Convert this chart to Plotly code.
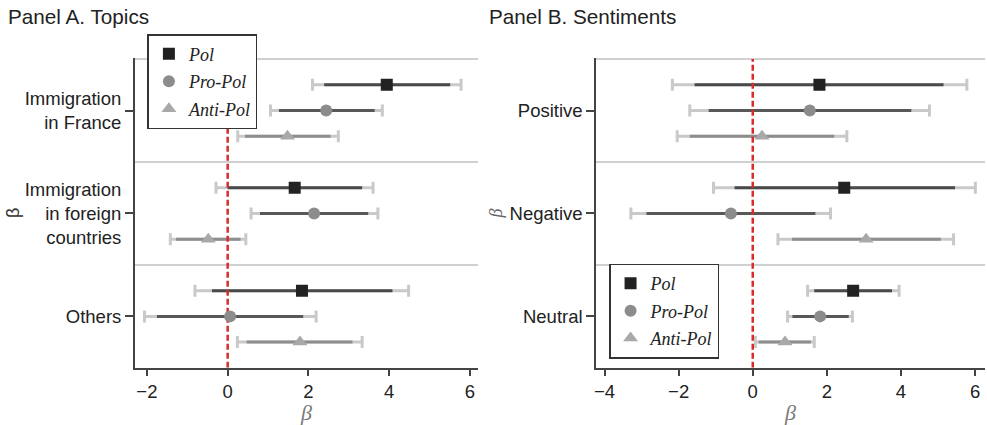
import plotly.graph_objects as go

# ---------------- data ----------------
series = ["Pol", "Pro-Pol", "Anti-Pol"]

topics = ["Immigration<br>in France", "Immigration<br>in foreign<br>countries", "Others"]
topics_est = {
    "Pol":      [3.94, 1.66, 1.84],
    "Pro-Pol":  [2.44, 2.14, 0.06],
    "Anti-Pol": [1.48, -0.48, 1.79],
}
topics_ci95_lo = {
    "Pol":      [2.10, -0.29, -0.81],
    "Pro-Pol":  [1.06, 0.58, -2.06],
    "Anti-Pol": [0.25, -1.42, 0.24],
}
topics_ci95_hi = {
    "Pol":      [5.78, 3.60, 4.48],
    "Pro-Pol":  [3.83, 3.72, 2.19],
    "Anti-Pol": [2.74, 0.45, 3.33],
}
topics_ci90_lo = {
    "Pol":      [2.39, 0.00, -0.39],
    "Pro-Pol":  [1.27, 0.80, -1.75],
    "Anti-Pol": [0.43, -1.28, 0.47],
}
topics_ci90_hi = {
    "Pol":      [5.51, 3.33, 4.08],
    "Pro-Pol":  [3.64, 3.48, 1.87],
    "Anti-Pol": [2.55, 0.32, 3.09],
}

sentiments = ["Positive", "Negative", "Neutral"]
sent_est = {
    "Pol":      [1.80, 2.47, 2.71],
    "Pro-Pol":  [1.54, -0.59, 1.82],
    "Anti-Pol": [0.25, 3.06, 0.87],
}
sent_ci95_lo = {
    "Pol":      [-2.17, -1.06, 1.48],
    "Pro-Pol":  [-1.70, -3.29, 0.94],
    "Anti-Pol": [-2.04, 0.68, 0.07],
}
sent_ci95_hi = {
    "Pol":      [5.78, 6.01, 3.95],
    "Pro-Pol":  [4.77, 2.10, 2.69],
    "Anti-Pol": [2.54, 5.42, 1.66],
}
sent_ci90_lo = {
    "Pol":      [-1.57, -0.49, 1.66],
    "Pro-Pol":  [-1.19, -2.87, 1.07],
    "Anti-Pol": [-1.70, 1.06, 0.16],
}
sent_ci90_hi = {
    "Pol":      [5.15, 5.46, 3.76],
    "Pro-Pol":  [4.28, 1.69, 2.59],
    "Anti-Pol": [2.20, 5.08, 1.57],
}

x_ticks_a = [-2, 0, 2, 4, 6]
x_ticks_b = [-4, -2, 0, 2, 4, 6]
ref_value = 0

# ---------------- styles ----------------
marker_symbol = {"Pol": "square", "Pro-Pol": "circle", "Anti-Pol": "triangle-up"}
marker_color = {"Pol": "#222222", "Pro-Pol": "#8c8c8c", "Anti-Pol": "#a9a9a9"}
marker_size = {"Pol": 12, "Pro-Pol": 12, "Anti-Pol": 13}
inner_color = {"Pol": "#4a4a4a", "Pro-Pol": "#585858", "Anti-Pol": "#8e8e8e"}
outer_color = "#c9c9c9"
offset = {"Pol": 0.25, "Pro-Pol": 0.0, "Anti-Pol": -0.25}

SANS = "Liberation Sans, Arial, sans-serif"
SERIF = "Liberation Serif, Times New Roman, serif"

fig = go.Figure()


def add_panel(cats, est, lo95, hi95, lo90, hi90, xa, ya, legend_name):
    n = len(cats)
    base = [n - i for i in range(n)]
    # outer (95%) intervals with caps
    for s in series:
        ys = [b + offset[s] for b in base]
        fig.add_trace(go.Scatter(
            x=est[s], y=ys, mode="markers",
            marker=dict(color="rgba(0,0,0,0)", size=1),
            error_x=dict(type="data", symmetric=False,
                         array=[h - e for h, e in zip(hi95[s], est[s])],
                         arrayminus=[e - l for e, l in zip(est[s], lo95[s])],
                         color=outer_color, thickness=3, width=6),
            xaxis=xa, yaxis=ya, showlegend=False, hoverinfo="skip"))
    # inner (90%) intervals
    for s in series:
        ys = [b + offset[s] for b in base]
        fig.add_trace(go.Scatter(
            x=est[s], y=ys, mode="markers",
            marker=dict(color="rgba(0,0,0,0)", size=1),
            error_x=dict(type="data", symmetric=False,
                         array=[h - e for h, e in zip(hi90[s], est[s])],
                         arrayminus=[e - l for e, l in zip(est[s], lo90[s])],
                         color=inner_color[s], thickness=3, width=0),
            xaxis=xa, yaxis=ya, showlegend=False, hoverinfo="skip"))
    # reference line at zero
    fig.add_trace(go.Scatter(
        x=[ref_value, ref_value], y=[0.5, n + 0.5], mode="lines",
        line=dict(color="#d92b2b", width=2.5, dash="6px,3px"),
        xaxis=xa, yaxis=ya, showlegend=False, hoverinfo="skip"))
    # point estimates
    for s in series:
        ys = [b + offset[s] for b in base]
        fig.add_trace(go.Scatter(
            x=est[s], y=ys, mode="markers", name=s,
            marker=dict(symbol=marker_symbol[s], color=marker_color[s],
                        size=marker_size[s], line=dict(width=0)),
            xaxis=xa, yaxis=ya, legend=legend_name, legendgroup=legend_name + s))
    return base


base_a = add_panel(topics, topics_est, topics_ci95_lo, topics_ci95_hi,
                   topics_ci90_lo, topics_ci90_hi, "x", "y", "legend")
base_b = add_panel(sentiments, sent_est, sent_ci95_lo, sent_ci95_hi,
                   sent_ci90_lo, sent_ci90_hi, "x2", "y2", "legend2")

y_dom = [0.12, 0.8612]
axis_common_x = dict(
    ticks="outside", ticklen=6, tickwidth=1.5, tickcolor="#444444",
    showline=True, linecolor="#444444", linewidth=1.5,
    showgrid=False, zeroline=False,
    tickfont=dict(family=SANS, size=18.5, color="#222222"),
)
axis_common_y = dict(
    ticks="outside", ticklen=8, tickwidth=1.5, tickcolor="#444444",
    showline=True, linecolor="#444444", linewidth=1.5,
    showgrid=False, zeroline=False, range=[0.5, 3.51],
    tickfont=dict(family=SANS, size=18.5, color="#222222"),
    minor=dict(tickmode="array", tickvals=[1.5, 2.5, 3.5], showgrid=True,
               gridcolor="#d0d0d0", gridwidth=1.5, ticks=""),
)

legend_common = dict(
    xanchor="left", yanchor="top",
    bgcolor="white", bordercolor="#333333", borderwidth=1.5,
    font=dict(family=SERIF, size=18, color="#222222", style="italic"),
    itemwidth=30, traceorder="grouped", tracegroupgap=1,
)

fig.update_layout(
    width=987, height=425,
    margin=dict(l=0, r=0, t=0, b=0),
    paper_bgcolor="white", plot_bgcolor="white",
    font=dict(family=SANS, size=18, color="#222222"),
    xaxis=dict(domain=[0.1348, 0.4833], range=[-2.30, 6.20], anchor="y",
               tickvals=x_ticks_a,
               title=dict(text="β", standoff=8,
                          font=dict(family=SERIF, size=22, color="#7a7a7a", style="italic")),
               **axis_common_x),
    yaxis=dict(domain=y_dom, anchor="x", tickvals=base_a, ticktext=topics,
               title=dict(text="β", standoff=0,
                          font=dict(family=SANS, size=18, color="#333333")),
               **axis_common_y),
    xaxis2=dict(domain=[0.6031, 0.998], range=[-4.23, 6.27], anchor="y2",
                tickvals=x_ticks_b,
                title=dict(text="β", standoff=8,
                           font=dict(family=SERIF, size=22, color="#7a7a7a", style="italic")),
                **axis_common_x),
    yaxis2=dict(domain=y_dom, anchor="x2", tickvals=base_b, ticktext=sentiments,
                title=dict(text="β", standoff=2,
                           font=dict(family=SERIF, size=18, color="#666666", style="italic")),
                **axis_common_y),
    legend=dict(x=145.7 / 987, y=1 - 34.7 / 425, **legend_common),
    legend2=dict(x=608.3 / 987, y=1 - 268 / 425, **legend_common),
    annotations=[
        dict(text="Panel A. Topics", xref="paper", yref="paper", x=4 / 987, y=1 - 3 / 425,
             xanchor="left", yanchor="top", showarrow=False,
             font=dict(family=SANS, size=20.7, color="#222222")),
        dict(text="Panel B. Sentiments", xref="paper", yref="paper", x=486 / 987, y=1 - 3 / 425,
             xanchor="left", yanchor="top", showarrow=False,
             font=dict(family=SANS, size=20.7, color="#222222")),
    ],
)

fig.write_html("out.html", config={"displayModeBar": False},
               post_script="document.body.style.margin='0';")
